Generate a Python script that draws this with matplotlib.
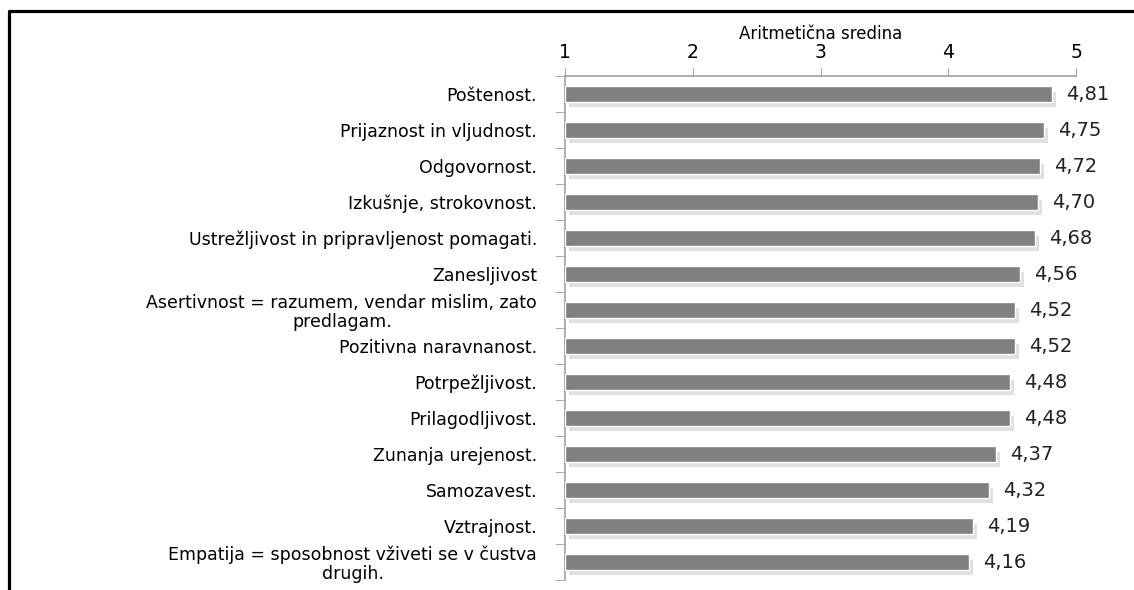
import numpy as np
import matplotlib
matplotlib.use("Agg")
import matplotlib.pyplot as plt
import matplotlib.patheffects as pe
from matplotlib.lines import Line2D

plt.rcParams['font.family'] = ['DejaVu Sans']

# values
labels = [
    "Poštenost.",
    "Prijaznost in vljudnost.",
    "Odgovornost.",
    "Izkušnje, strokovnost.",
    "Ustrežljivost in pripravljenost pomagati.",
    "Zanesljivost",
    "Asertivnost = razumem, vendar mislim, zato\npredlagam.",
    "Pozitivna naravnanost.",
    "Potrpežljivost.",
    "Prilagodljivost.",
    "Zunanja urejenost.",
    "Samozavest.",
    "Vztrajnost.",
    "Empatija = sposobnost vživeti se v čustva\ndrugih.",
]
means = [4.81, 4.75, 4.72, 4.70, 4.68, 4.56, 4.52, 4.52, 4.48, 4.48, 4.37, 4.32, 4.19, 4.16]
value_text = ["4,81", "4,75", "4,72", "4,70", "4,68", "4,56", "4,52",
              "4,52", "4,48", "4,48", "4,37", "4,32", "4,19", "4,16"]
xticks = [1, 2, 3, 4, 5]

fig = plt.figure(figsize=(11.34, 5.9), dpi=100)
ax = fig.add_axes([565/1134, 1-580/590, (1076-565)/1134, (580-76)/590])

y = np.arange(len(labels))
bars = ax.barh(y, np.array(means) - 1, left=1, height=0.44, color="#808080",
               edgecolor="white", linewidth=1.0, zorder=3)
for b in bars:
    b.set_path_effects([pe.SimplePatchShadow(offset=(3, -4), shadow_rgbFace="0.6", alpha=0.3),
                        pe.Normal()])

for yi, v, t in zip(y, means, value_text):
    ax.text(v + 0.11, yi, t, va="center", ha="left", fontsize=14, color="#222222")

ax.set_xlim(1, 5)
ax.set_ylim(len(labels) - 0.5, -0.5)
ax.xaxis.tick_top()
ax.xaxis.set_label_position("top")
ax.set_xticks(xticks)
ax.set_xticklabels([str(t) for t in xticks], fontsize=13.5)
ax.set_xlabel("Aritmetična sredina", fontsize=12, labelpad=3)
ax.tick_params(axis="x", length=6, color="#a0a0a0", pad=4)

ax.set_yticks(y)
ax.set_yticklabels(labels, fontsize=12.5, linespacing=1.05, multialignment="center")
ax.tick_params(axis="y", which="major", length=0, pad=20)
ax.set_yticks(np.arange(-0.5, len(labels), 1), minor=True)
ax.tick_params(axis="y", which="minor", length=7, color="#a0a0a0")

for s in ["right", "bottom"]:
    ax.spines[s].set_visible(False)
for s in ["top", "left"]:
    ax.spines[s].set_color("#a0a0a0")
    ax.spines[s].set_linewidth(1.2)

# black frame cut off at the right and bottom
fx = 9/1134
fy = 1 - 11/590
fig.add_artist(Line2D([fx, fx, 1.01], [-0.01, fy, fy], color="black", lw=2.3,
                      transform=fig.transFigure))

fig.savefig("out.png", dpi=100)
